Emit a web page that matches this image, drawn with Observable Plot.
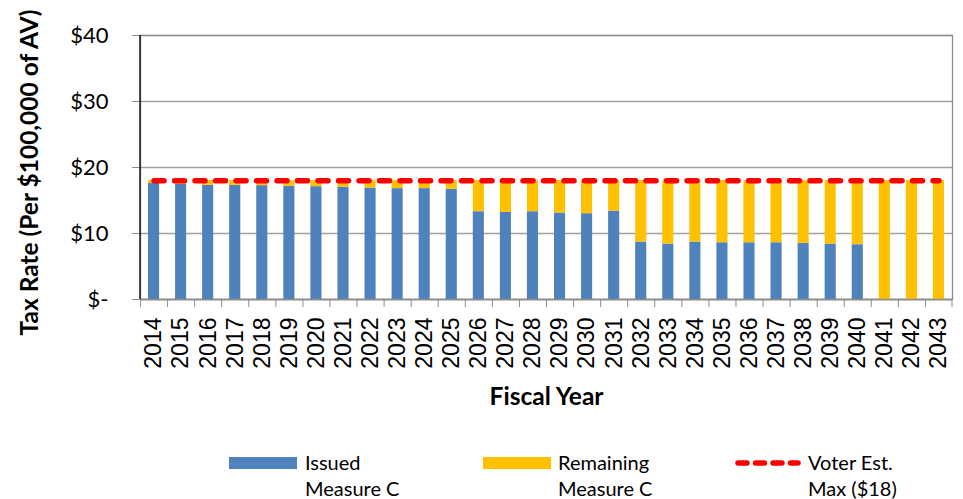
<!DOCTYPE html>
<html>
<head>
<meta charset="utf-8">
<script src="https://cdn.jsdelivr.net/npm/d3@7"></script>
<script src="https://cdn.jsdelivr.net/npm/@observablehq/plot@0.6"></script>
<style>
  html, body { margin: 0; padding: 0; background: #fff; }
  #wrap { position: relative; width: 963px; height: 499px; font-family: Lato, "Open Sans", sans-serif; }
  #legend { position: absolute; left: 0; top: 0; width: 963px; height: 499px; pointer-events: none; }
  .item { position: absolute; font-size: 20px; line-height: 26px; color: #000; }
  .sw { position: absolute; width: 68px; height: 12px; }
</style>
</head>
<body>
<div id="wrap">
  <div id="chart"></div>
  <div id="legend"></div>
</div>
<script>
const years = ["2014","2015","2016","2017","2018","2019","2020","2021","2022","2023","2024","2025","2026","2027","2028","2029","2030","2031","2032","2033","2034","2035","2036","2037","2038","2039","2040","2041","2042","2043"];
const issued = [17.6,17.45,17.3,17.3,17.25,17.15,17.1,17.0,16.9,16.8,16.8,16.7,13.3,13.2,13.3,13.1,13.0,13.4,8.7,8.4,8.7,8.6,8.6,8.6,8.5,8.4,8.3,0,0,0];
const remaining = [0.4,0.55,0.7,0.7,0.75,0.85,0.9,1.0,1.1,1.2,1.2,1.3,4.7,4.8,4.7,4.9,5.0,4.6,9.3,9.6,9.3,9.4,9.4,9.4,9.5,9.6,9.7,18,18,18];
const voterMax = [18,18,18,18,18,18,18,18,18,18,18,18,18,18,18,18,18,18,18,18,18,18,18,18,18,18,18,18,18,18];
const yTicks = [0,10,20,30,40];
const seriesNames = ["Issued Measure C","Remaining Measure C","Voter Est. Max ($18)"];
const seriesColors = ["#4F81BD","#FFC000","#FF0000"];

const bars = [];
years.forEach((y,i) => bars.push({year: y, series: seriesNames[0], value: issued[i]}));
years.forEach((y,i) => bars.push({year: y, series: seriesNames[1], value: remaining[i]}));
const line = years.map((y,i) => ({year: y, value: voterMax[i]}));

const W = 963, H = 425, mL = 140, mR = 11, mT = 35, mB = 126;
const step = (W - mL - mR) / years.length;

const chart = Plot.plot({
  width: W, height: H,
  marginLeft: mL, marginRight: mR, marginTop: mT, marginBottom: mB,
  style: {fontFamily: "Lato, sans-serif", background: "#fff"},
  x: {type: "band", domain: years, paddingInner: 0.59, paddingOuter: 0.295, round: false, label: null},
  y: {domain: [0, 40], label: null},
  color: {domain: seriesNames.slice(0,2), range: seriesColors.slice(0,2)},
  marks: [
    Plot.gridY(yTicks, {stroke: "#a0a0a0", strokeOpacity: 1, strokeWidth: 1.3}),
    Plot.frame({stroke: "#8c8c8c", strokeWidth: 1.3}),
    Plot.barY(bars, {x: "year", y: "value", fill: "series"}),
    Plot.line(line, {x: "year", y: "value", stroke: seriesColors[2], strokeWidth: 5.5, strokeDasharray: "10,10.5", strokeLinecap: "round"}),
    Plot.axisY(yTicks, {tickSize: 8, tickPadding: 24, stroke: "#8c8c8c", fontSize: 22, tickFormat: d => d === 0 ? "$-" : "$" + d, label: null}),
    Plot.ruleY([0], {stroke: "#8c8c8c", strokeWidth: 1.3}),
    Plot.axisX(years, {tickSize: 8, dx: -step/2, stroke: "#8c8c8c", tickFormat: () => "", label: null}),
    Plot.axisX(years, {tickSize: 0, tickPadding: 18, tickRotate: -90, fontSize: 23, fontFamily: "Liberation Sans, Arial, sans-serif", label: null}),
    Plot.text(["Fiscal Year"], {frameAnchor: "bottom", dy: 105, fontSize: 24.5, fontWeight: "bold", text: d => d}),
    Plot.text(["Tax Rate (Per $100,000 of AV)"], {frameAnchor: "left", textAnchor: "middle", dy: 5, dx: -110, rotate: -90, fontSize: 24.5, fontWeight: "bold", text: d => d})
  ]
});
document.getElementById("chart").appendChild(chart);

// left axis line in black and closing tick at the right edge
const svg = d3.select(chart);
svg.append("line").attr("x1", mL).attr("x2", mL).attr("y1", mT).attr("y2", H - mB).attr("stroke", "#000").attr("stroke-width", 1.3);
svg.append("line").attr("x1", W - mR).attr("x2", W - mR).attr("y1", H - mB).attr("y2", H - mB + 8).attr("stroke", "#8c8c8c").attr("stroke-width", 1);

// legend
const leg = document.getElementById("legend");
const items = [
  {x: 229, tx: 305, lines: ["Issued", "Measure C"], kind: "bar", color: seriesColors[0]},
  {x: 483, tx: 558, lines: ["Remaining", "Measure C"], kind: "bar", color: seriesColors[1]},
  {x: 735, tx: 808, lines: ["Voter Est.", "Max ($18)"], kind: "line", color: seriesColors[2]}
];
items.forEach(it => {
  if (it.kind === "bar") {
    const s = document.createElement("div");
    s.className = "sw";
    s.style.left = it.x + "px"; s.style.top = "457px"; s.style.background = it.color;
    leg.appendChild(s);
  } else {
    const ns = "http://www.w3.org/2000/svg";
    const sv = document.createElementNS(ns, "svg");
    sv.setAttribute("width", 70); sv.setAttribute("height", 12);
    sv.style.position = "absolute"; sv.style.left = (it.x - 2) + "px"; sv.style.top = "457px";
    const l = document.createElementNS(ns, "line");
    l.setAttribute("x1", 5); l.setAttribute("x2", 65); l.setAttribute("y1", 6); l.setAttribute("y2", 6);
    l.setAttribute("stroke", it.color); l.setAttribute("stroke-width", 5.5);
    l.setAttribute("stroke-dasharray", "9,8.5"); l.setAttribute("stroke-linecap", "round");
    sv.appendChild(l); leg.appendChild(sv);
  }
  const t = document.createElement("div");
  t.className = "item";
  t.style.left = it.tx + "px"; t.style.top = "449px";
  t.innerHTML = it.lines.join("<br>");
  leg.appendChild(t);
});
</script>
</body>
</html>
